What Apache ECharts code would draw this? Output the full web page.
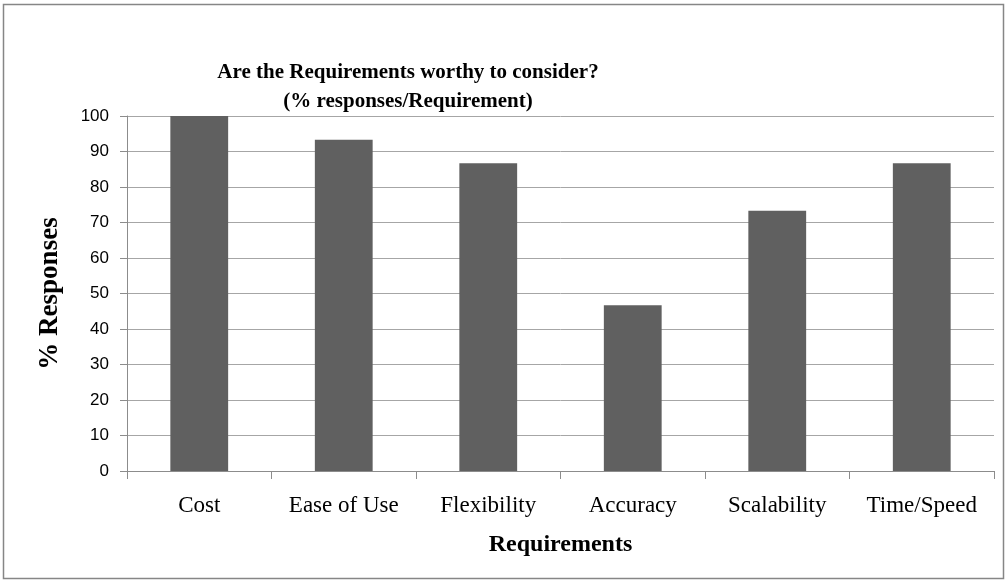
<!DOCTYPE html>
<html>
<head>
<meta charset="utf-8">
<script src="https://cdn.jsdelivr.net/npm/echarts@6/dist/echarts.min.js"></script>
<style>
  html, body { margin: 0; padding: 0; background: #fff; }
  #main { width: 1007px; height: 582px; }
</style>
</head>
<body>
<div id="main"></div>
<script>
// data
var categories = ['Cost', 'Ease of Use', 'Flexibility', 'Accuracy', 'Scalability', 'Time/Speed']
var responses = [100, 93.3, 86.7, 46.7, 73.3, 86.7]

var serif = '"Liberation Serif", "DejaVu Serif", serif'
var sans = '"Liberation Sans", Arial, sans-serif'

var myChart = echarts.init(document.getElementById('main'), null, { renderer: 'canvas' })

myChart.setOption({
  animation: false,
  backgroundColor: '#fff',
  title: {
    text: 'Are the Requirements worthy to consider?\n(% responses/Requirement)',
    left: 403,
    top: 53,
    textAlign: 'center',
    textStyle: {
      fontFamily: serif,
      fontWeight: 'bold',
      fontSize: 21,
      lineHeight: 29,
      color: '#000'
    }
  },
  // outer frame
  graphic: [{
    type: 'rect',
    shape: { x: 3.5, y: 4.5, width: 1000, height: 574 },
    style: { fill: null, stroke: '#868686', lineWidth: 1.5 },
    silent: true
  }],
  grid: {
    left: 127,
    right: 13,
    top: 116,
    bottom: 111
  },
  xAxis: {
    type: 'category',
    data: categories,
    name: 'Requirements',
    nameLocation: 'middle',
    nameGap: 62,
    nameTextStyle: { fontFamily: serif, fontWeight: 'bold', fontSize: 24, color: '#000' },
    axisLine: { lineStyle: { color: '#8c8c8c' } },
    axisTick: { show: true, length: 8, lineStyle: { color: '#8c8c8c' } },
    axisLabel: { fontFamily: serif, fontSize: 23, color: '#000', margin: 23 }
  },
  yAxis: {
    type: 'value',
    min: 0,
    max: 100,
    interval: 10,
    name: '% Responses',
    nameLocation: 'middle',
    nameGap: 63,
    nameTextStyle: { fontFamily: serif, fontWeight: 'bold', fontSize: 27, color: '#000' },
    axisLine: { show: true, lineStyle: { color: '#8c8c8c' } },
    axisTick: { show: true, length: 7, lineStyle: { color: '#8c8c8c' } },
    axisLabel: { fontFamily: sans, fontSize: 17, color: '#000', margin: 18 },
    splitLine: { lineStyle: { color: '#a6a6a6' } }
  },
  series: [{
    type: 'bar',
    name: '% Responses',
    data: responses,
    barWidth: '40%',
    itemStyle: { color: '#606060' }
  }]
})
</script>
</body>
</html>
